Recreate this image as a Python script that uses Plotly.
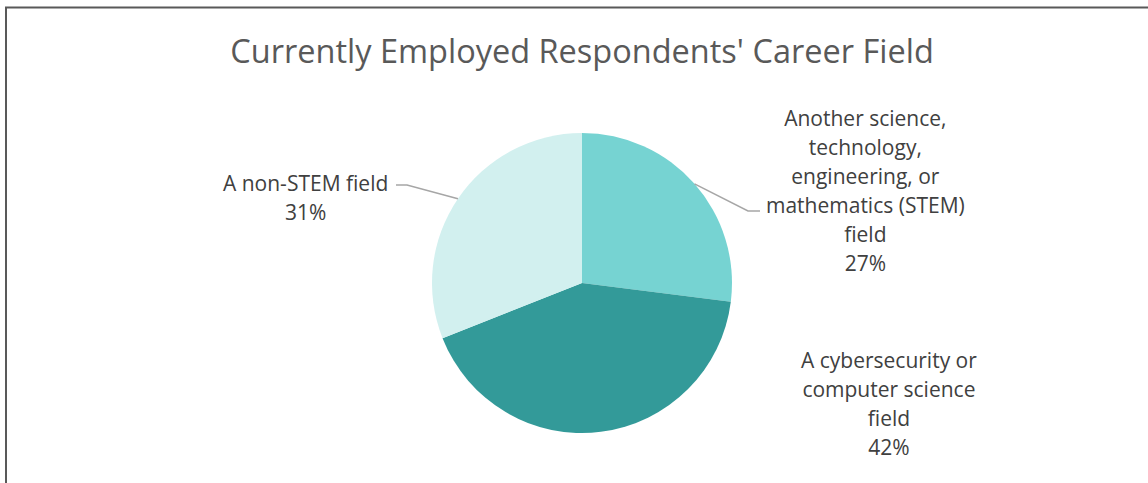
import numpy as np
import plotly.graph_objects as go

# data
categories = [
    "Another science, technology, engineering, or mathematics (STEM) field",
    "A cybersecurity or computer science field",
    "A non-STEM field",
]
label_lines = [
    ["Another science,", "technology,", "engineering, or", "mathematics (STEM)", "field"],
    ["A cybersecurity or", "computer science", "field"],
    ["A non-STEM field"],
]
shares = [27, 42, 31]
colors = ["#76D3D2", "#339A99", "#D2F0EF"]

W, H = 1148, 483
cx, cy, r = 582, 283, 150  # pie centre / radius in px


def px(x, y):
    # pixel -> paper coords (no margins)
    return x / W, 1 - y / H


# label layout: text centre (px) and optional elbow for the leader line
label_pos = [
    dict(x=865, y=190.5, elbow=(748, 211), end=(760, 211)),
    dict(x=889, y=403.5, elbow=None, end=None),
    dict(x=305, y=197, elbow=(407, 185), end=(396, 185)),
]

fig = go.Figure()
x0, y0 = px(cx - r, cy + r)
x1, y1 = px(cx + r, cy - r)
fig.add_trace(go.Pie(
    labels=categories,
    values=shares,
    sort=False,
    direction="clockwise",
    rotation=0,
    marker=dict(colors=colors, line=dict(width=0)),
    textinfo="none",
    hoverinfo="label+percent",
    showlegend=False,
    domain=dict(x=[x0, x1], y=[y0, y1]),
))

# mid angles of each slice, clockwise from 12 o'clock
total = sum(shares)
cum = np.cumsum([0] + shares[:-1])
mids = [(c + v / 2) / total * 2 * np.pi for c, v in zip(cum, shares)]

shapes = []
annotations = []
for lines, v, pos, ang in zip(label_lines, shares, label_pos, mids):
    pct = f"{round(v / total * 100)}%"
    txt = "<br>".join(f"<span style='font-size:21px'>{s}</span>" for s in lines + [pct])
    ax_, ay_ = px(pos["x"], pos["y"])
    annotations.append(dict(
        x=ax_, y=ay_, xref="paper", yref="paper", text=txt, showarrow=False,
        xanchor="center", yanchor="middle", align="center",
        font=dict(family="Open Sans", size=22.3, color="#404040"),
    ))
    if pos["elbow"] is not None:
        ex, ey = cx + r * np.sin(ang), cy - r * np.cos(ang)
        pts = [(ex, ey), pos["elbow"], pos["end"]]
        path = "M " + " L ".join(f"{px(a, b)[0]},{px(a, b)[1]}" for a, b in pts)
        shapes.append(dict(type="path", path=path, xref="paper", yref="paper",
                           line=dict(color="#A6A6A6", width=1.5)))

# chart frame (left + top edges visible)
shapes.append(dict(type="line", xref="paper", yref="paper",
                   x0=6 / W, x1=6 / W, y0=0, y1=1 - 7.5 / H,
                   line=dict(color="#595959", width=2)))
shapes.append(dict(type="line", xref="paper", yref="paper",
                   x0=5 / W, x1=1, y0=1 - 7.5 / H, y1=1 - 7.5 / H,
                   line=dict(color="#595959", width=2)))

fig.update_layout(
    width=W, height=H,
    margin=dict(l=0, r=0, t=0, b=0),
    paper_bgcolor="white",
    plot_bgcolor="white",
    title=dict(text="Currently Employed Respondents' Career Field",
               x=582 / W, xanchor="center", y=1 - 52 / H, yanchor="middle",
               yref="container",
               font=dict(family="Open Sans", size=32.5, color="#595959")),
    shapes=shapes,
    annotations=annotations,
)

fig.write_html("out.html", config={"displayModeBar": False},
               post_script="document.body.style.margin='0px';")
